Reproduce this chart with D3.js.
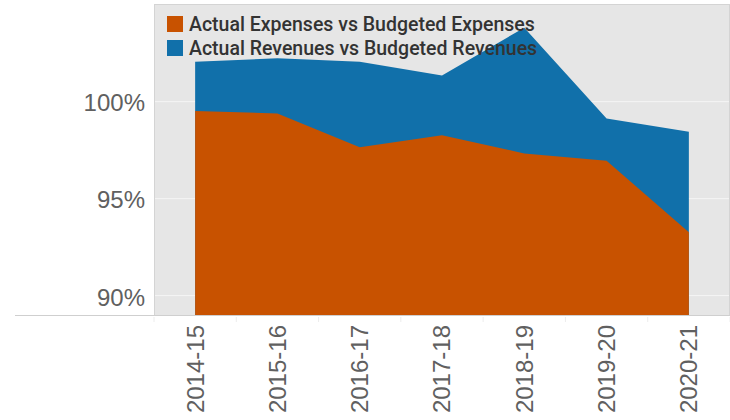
<!DOCTYPE html>
<html>
<head>
<meta charset="utf-8">
<script src="https://cdn.jsdelivr.net/npm/d3@7"></script>
<style>
  html, body { margin: 0; padding: 0; background: #fff; }
  svg { display: block; }
</style>
</head>
<body>
<svg id="chart" width="730" height="420"></svg>
<script>
// Fiscal years and ratios (percent of budget)
const years = ["2014-15", "2015-16", "2016-17", "2017-18", "2018-19", "2019-20", "2020-21"];
const expenseRatio = [99.51, 99.39, 97.64, 98.27, 97.33, 96.95, 93.26];
const revenueRatio = [102.05, 102.23, 102.05, 101.35, 103.81, 99.13, 98.44];
const yTicks = [90, 95, 100];
const seriesNames = ["Actual Expenses vs Budgeted Expenses", "Actual Revenues vs Budgeted Revenues"];
const seriesColors = ["#c85200", "#1170aa"];

const svg = d3.select("#chart");
const plot = { left: 154, right: 730, top: 4, bottom: 315 };

const x = d3.scaleBand().domain(years).range([plot.left, plot.right]);
const xc = d => x(d) + x.bandwidth() / 2;
const y = d3.scaleLinear().domain([89, 105.03]).range([plot.bottom, plot.top]);

// Plot background
svg.append("rect")
  .attr("x", plot.left).attr("y", plot.top)
  .attr("width", plot.right - plot.left).attr("height", plot.bottom - plot.top)
  .attr("fill", "#e6e6e6");

// Horizontal gridlines
svg.append("g").selectAll("line").data(yTicks).join("line")
  .attr("x1", plot.left).attr("x2", plot.right)
  .attr("y1", d => y(d)).attr("y2", d => y(d))
  .attr("stroke", "#f5f5f5").attr("stroke-width", 1);

// Areas: revenues behind, expenses in front
const area = vals => d3.area()
  .x((d, i) => xc(years[i]))
  .y0(plot.bottom)
  .y1(d => y(d))(vals);

svg.append("path").attr("d", area(revenueRatio)).attr("fill", seriesColors[1]);
svg.append("path").attr("d", area(expenseRatio)).attr("fill", seriesColors[0]);

// Frame lines
svg.append("line").attr("x1", plot.left + 0.5).attr("x2", plot.left + 0.5)
  .attr("y1", plot.top).attr("y2", plot.bottom).attr("stroke", "#d4d4d4");
svg.append("line").attr("x1", plot.left).attr("x2", plot.right)
  .attr("y1", plot.top + 0.5).attr("y2", plot.top + 0.5).attr("stroke", "#d4d4d4");
svg.append("line").attr("x1", plot.right - 0.5).attr("x2", plot.right - 0.5)
  .attr("y1", plot.top).attr("y2", plot.bottom).attr("stroke", "#d4d4d4");
svg.append("line").attr("x1", 15).attr("x2", plot.right)
  .attr("y1", plot.bottom + 0.5).attr("y2", plot.bottom + 0.5).attr("stroke", "#cfcfcf");

// Y axis labels
const yAxis = d3.axisLeft(y).tickValues(yTicks).tickSize(0).tickPadding(0)
  .tickFormat(d => d + "%");
const gy = svg.append("g").attr("transform", `translate(145,1)`).call(yAxis);
gy.select(".domain").remove();
gy.selectAll("text")
  .attr("font-family", "'Liberation Sans', Arial, sans-serif")
  .attr("font-size", 24).attr("fill", "#606060").attr("dy", "0.35em");

// X axis: band separators and rotated labels
const bandEdges = years.map(d => x(d)).concat([plot.right]);
svg.append("g").selectAll("line").data(bandEdges).join("line")
  .attr("x1", d => d).attr("x2", d => d)
  .attr("y1", plot.bottom + 2).attr("y2", plot.bottom + 7)
  .attr("stroke", "#ececec");

const xAxis = d3.axisBottom(x).tickSize(0).tickPadding(0);
const gx = svg.append("g").attr("transform", `translate(0,${plot.bottom})`).call(xAxis);
gx.select(".domain").remove();
gx.selectAll("text")
  .attr("font-family", "'Liberation Sans', Arial, sans-serif")
  .attr("font-size", 24).attr("fill", "#606060")
  .attr("transform", "rotate(-90)")
  .attr("text-anchor", "end")
  .attr("x", -10).attr("y", 0).attr("dy", "0.35em");

// Legend
const legend = svg.append("g").selectAll("g").data(seriesNames).join("g")
  .attr("transform", (d, i) => `translate(167,${16 + i * 24})`);
legend.append("rect").attr("width", 16).attr("height", 16)
  .attr("fill", (d, i) => seriesColors[i]);
legend.append("text").attr("x", 22).attr("y", 15)
  .attr("font-family", "Roboto, 'Liberation Sans', sans-serif")
  .attr("font-weight", 500)
  .attr("font-size", 19.5).attr("fill", "#333")
  .text(d => d);
</script>
</body>
</html>
